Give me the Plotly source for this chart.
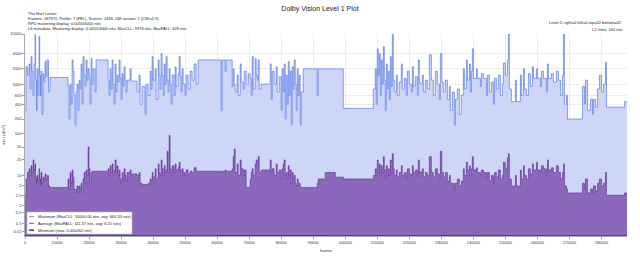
import plotly.graph_objects as go

TOTAL_FRAMES = 187972

# Scene start frames
SCENE_START = [
    0, 310, 780, 1250, 1560, 1880, 2190, 2500, 2810, 3130,
    3280, 3590, 3750, 4060, 4380, 4590, 4840, 5000, 5310, 5630,
    5940, 6250, 6560, 6880, 7340, 7810, 13440, 13750, 14060, 14380,
    14690, 15000, 15310, 15630, 15940, 16250, 16560, 16880, 17190, 17500,
    17810, 18130, 18440, 18750, 19060, 19380, 19690, 20000, 20310, 20630,
    20940, 21250, 21880, 22190, 25940, 26250, 26560, 26880, 27190, 27500,
    27810, 28130, 28440, 28750, 29060, 29380, 29690, 30000, 30310, 30630,
    30940, 31250, 31560, 31880, 32810, 33130, 35000, 35630, 35940, 36560,
    37500, 37810, 38440, 39060, 39380, 39690, 40000, 40630, 40940, 41560,
    41880, 42190, 42500, 42810, 43130, 43440, 43750, 44060, 44380, 44690,
    45000, 45310, 45630, 45940, 46560, 46880, 47190, 47810, 48130, 48440,
    48750, 49060, 49380, 50000, 50310, 50940, 51560, 52190, 52810, 53440,
    54060, 61250, 61560, 62500, 62810, 64690, 65000, 65310, 65630, 66250,
    66560, 67190, 67500, 68130, 68440, 69060, 69690, 70310, 70630, 70940,
    71250, 71880, 72190, 72500, 72810, 73130, 73750, 76560, 76880, 77190,
    77810, 78440, 78750, 79380, 80000, 80310, 80630, 80940, 81250, 81560,
    81880, 82190, 82500, 82810, 83130, 83440, 83750, 84060, 84380, 84690,
    85000, 85310, 85630, 85940, 86250, 86880, 91250, 91560, 93750, 96880,
    99380, 108750, 109380, 109690, 110000, 110310, 110630, 110940, 111250, 111560,
    111880, 112190, 112500, 112810, 113130, 113440, 113750, 114060, 114380, 114690,
    115000, 115310, 115940, 116250, 116880, 117500, 117810, 118440, 119060, 119380,
    120000, 120630, 120940, 121250, 121880, 122500, 122810, 123130, 123440, 124060,
    124380, 125000, 125630, 126250, 126880, 127500, 128130, 128750, 129380, 129690,
    130160, 130630, 131250, 131880, 132500, 132810, 133440, 134060, 134380, 135000,
    135630, 136250, 136880, 137190, 137810, 138130, 138750, 139060, 139380, 139690,
    140000, 140940, 141250, 142190, 142500, 143130, 144060, 144380, 145000, 145630,
    146250, 146560, 147190, 147810, 148440, 149060, 149380, 150000, 150630, 150940,
    151250, 151880, 153130, 153440, 154690, 155000, 155630, 155940, 156560, 157190,
    157810, 158440, 158750, 159690, 160000, 160940, 161250, 161880, 162810, 163130,
    163440, 164380, 165000, 165940, 166560, 167190, 167810, 168130, 168440, 169060,
    169380, 174060, 174690, 175000, 175630, 176560, 177190, 177500, 178130, 178750,
    179380, 180000, 180630, 181250, 181560, 187190,
]

# Per-scene maximum (nits)
MAX_NITS = [
    300, 2200, 1500, 2500, 800, 3500, 1800, 600, 2500, 9800,
    1200, 300, 2000, 600, 9000, 1500, 600, 1800, 250, 1600,
    1100, 2800, 1400, 3000, 700, 1350, 900, 200, 1000, 400,
    3000, 1800, 600, 150, 700, 1000, 300, 1200, 800, 2500,
    400, 3500, 1500, 900, 3000, 1200, 2000, 1400, 400, 3200,
    1000, 2000, 700, 3000, 1200, 600, 2000, 800, 3000, 1000,
    400, 2500, 700, 1500, 1100, 3000, 1300, 500, 1600, 900,
    2200, 1200, 700, 1200, 2000, 1150, 700, 1500, 400, 900,
    250, 1000, 600, 1800, 800, 3500, 1200, 2000, 500, 3000,
    1500, 800, 4000, 1500, 600, 2500, 1000, 3500, 1200, 700,
    2000, 1000, 400, 1500, 600, 2200, 900, 1600, 3500, 1400,
    700, 2000, 1000, 600, 1500, 800, 1800, 1200, 2500, 1000,
    3000, 300, 3000, 1800, 3000, 900, 2000, 1000, 700, 1500,
    600, 2500, 1100, 800, 1800, 1000, 1600, 1300, 600, 3500,
    800, 3200, 1500, 1200, 3000, 800, 1000, 2500, 500, 1800,
    1000, 2200, 700, 1400, 300, 2000, 700, 2500, 200, 1500,
    400, 2800, 600, 1800, 150, 2200, 800, 3000, 1000, 300,
    2000, 600, 1500, 150, 700, 2000, 600, 2000, 2000, 2000,
    330, 800, 2000, 400, 5000, 1500, 4000, 600, 3000, 1000,
    5500, 1200, 300, 2500, 800, 1800, 500, 3500, 900, 10000,
    1200, 700, 1500, 600, 1100, 2500, 800, 1300, 600, 1800,
    1000, 700, 2200, 900, 1400, 600, 3000, 1100, 1000, 1500,
    700, 1200, 800, 3800, 1200, 600, 1800, 1000, 500, 4000,
    1100, 700, 1200, 500, 900, 300, 700, 150, 500, 800,
    250, 600, 2000, 800, 3000, 1200, 2500, 700, 1800, 5000,
    1300, 2000, 1300, 900, 1600, 1300, 600, 1500, 700, 1100,
    400, 1300, 800, 1500, 600, 1000, 2600, 1500, 3000, 10000,
    800, 450, 1200, 450, 1500, 600, 2000, 800, 600, 1600,
    900, 2200, 1300, 2000, 1300, 900, 1800, 1300, 700, 2500,
    1300, 1600, 1100, 1800, 1200, 600, 1500, 10000, 400, 600,
    200, 900, 400, 1200, 300, 500, 250, 500, 350, 800,
    1500, 700, 1000, 2700, 350, 450,
]

# Per-scene average (nits)
AVG_NITS = [
    2.5, 8, 12, 15, 10, 18, 12, 25, 14, 20,
    9, 6, 10, 7, 15, 8, 5, 12, 6, 9,
    7, 11, 8, 10, 5, 4.5, 8, 4, 12, 6,
    14, 9, 4, 3, 4, 5, 3, 5, 4, 6,
    3, 8, 12, 6, 14, 10, 50, 15, 6, 12,
    13, 13, 13, 13, 15, 10, 18, 12, 20, 10,
    14, 25, 12, 18, 10, 14, 8, 6, 12, 8,
    15, 10, 7, 12, 14, 11, 10, 12, 6, 5.5,
    5.5, 5.5, 6, 8, 7, 12, 9, 15, 8, 20,
    12, 10, 25, 15, 10, 18, 12, 14, 40, 12,
    90, 15, 10, 18, 12, 20, 14, 16, 22, 14,
    10, 15, 12, 10, 14, 11, 13, 12, 16, 13,
    13, 12, 13, 14, 13, 15, 30, 45, 12, 20,
    10, 25, 15, 10, 14, 4.5, 4.5, 8, 12, 15,
    10, 20, 25, 18, 30, 12, 14, 25, 12, 15,
    10, 20, 12, 14, 8, 15, 20, 25, 10, 12,
    8, 18, 10, 14, 6, 12, 8, 10, 6, 5,
    8, 5, 6, 4.5, 4.5, 4.5, 6, 8, 12, 9,
    8, 10, 15, 10, 25, 12, 20, 10, 18, 12,
    30, 14, 8, 18, 10, 15, 10, 25, 12, 35,
    15, 10, 14, 9, 12, 18, 10, 12, 8, 15,
    11, 10, 18, 12, 14, 9, 25, 13, 12, 15,
    9, 12, 10, 30, 12, 9, 15, 11, 8, 40,
    12, 9, 12, 7, 10, 6, 6, 4, 6, 8,
    5, 7, 15, 10, 22, 14, 18, 10, 15, 30,
    14, 16, 12, 10, 14, 12, 8, 12, 7, 10,
    6, 12, 9, 14, 8, 10, 22, 15, 28, 35,
    8, 5, 10, 5, 14, 8, 18, 10, 8, 15,
    11, 20, 14, 22, 14, 12, 18, 15, 10, 25,
    14, 16, 12, 18, 12, 8, 12, 20, 5, 4,
    3, 6, 4, 8, 3, 4, 3, 5, 3.5, 6,
    8, 5, 6, 12, 2.5, 3,
]

# Minimum (nits)
MIN_FRAMES = [0, 40000, 60000, 95000, 130000, 150000, 175000]
MIN_NITS = [0.0001, 0.00005, 0.0002, 0.0001, 0.000262, 0.0001, 0.00005]

Y_TICK_NITS = [0.01, 0.1, 0.5, 1, 2.5, 5, 10, 25, 50, 100, 200, 400, 600, 1000, 2000, 4000, 10000]
Y_TICK_TEXT = ["0.01", "0.1", "0.5", "1", "2.5", "5", "10", "25", "50", "100", "200", "400",
               "600", "1000", "2000", "4000", "10000"]
X_TICKS = list(range(0, 180001, 10000))

HEADER_LEFT = [
    "The Hurt Locker",
    "Frames: 187972, Profile: 7 (FEL), Scenes: 2436, DM version: 1 (CM v2.9)",
    "RPU mastering display: 0.0050/4000 nits",
    "L6 metadata: Mastering display: 0.0050/4000 nits, MaxCLL: 9976 nits, MaxFALL: 626 nits",
]
HEADER_RIGHT = ["Level 5: right=0 left=0 top=42 bottom=42", "L2 trims: 100 nits"]
LEGEND_TEXT = [
    "Maximum (MaxCLL: 10000.00 nits, avg: 664.33 nits)",
    "Average (MaxFALL: 111.37 nits, avg: 6.15 nits)",
    "Minimum (max: 0.000262 nits)",
]


def pq(nits):
    m1 = 2610 / 16384
    m2 = 2523 / 4096 * 128
    c1 = 3424 / 4096
    c2 = 2413 / 4096 * 32
    c3 = 2392 / 4096 * 32
    y = max(nits, 0) / 10000.0
    ym = y ** m1
    return ((c1 + c2 * ym) / (1 + c3 * ym)) ** m2


xs = SCENE_START + [TOTAL_FRAMES]
ymax = [pq(v) for v in MAX_NITS] + [pq(MAX_NITS[-1])]
yavg = [pq(v) for v in AVG_NITS] + [pq(AVG_NITS[-1])]
xmin = MIN_FRAMES + [TOTAL_FRAMES]
ymin = [pq(v) for v in MIN_NITS] + [pq(MIN_NITS[-1])]

FONT = "Liberation Sans, Arial, sans-serif"
MAX_FILL = "#cdd6f6"
MAX_LINE = "rgba(55,95,228,0.8)"
AVG_FILL = "#8c68bd"
AVG_LINE = "rgba(75,5,130,0.75)"

fig = go.Figure()
fig.add_trace(go.Scatter(x=xs, y=ymax, mode="lines", line=dict(shape="hv", color=MAX_LINE, width=0.7),
                         fill="tozeroy", fillcolor=MAX_FILL, showlegend=False, name="Maximum"))
fig.add_trace(go.Scatter(x=xs, y=yavg, mode="lines", line=dict(shape="hv", color=AVG_LINE, width=0.6),
                         fill="tozeroy", fillcolor=AVG_FILL, showlegend=False, name="Average"))
fig.add_trace(go.Scatter(x=xmin, y=ymin, mode="lines", line=dict(shape="hv", color="#222222", width=0.6),
                         showlegend=False, name="Minimum"))

PLOT_TOP = 34
PLOT_H = 202
PLOT_L = 25
PLOT_W = 602


def py(px):
    return (PLOT_TOP + PLOT_H - px) / PLOT_H


def pxx(px):
    return (px - PLOT_L) / PLOT_W


annotations = []
for i, t in enumerate(HEADER_LEFT):
    annotations.append(dict(text=t, x=pxx(26), y=py(14 + 5 * i), xref="paper", yref="paper",
                            xanchor="left", yanchor="middle", showarrow=False,
                            font=dict(size=4, color="#222", family=FONT)))
for i, t in enumerate(HEADER_RIGHT):
    annotations.append(dict(text=t, x=pxx(624), y=py(23 + 6.5 * i), xref="paper", yref="paper",
                            xanchor="right", yanchor="middle", showarrow=False,
                            font=dict(size=4, color="#222", family=FONT)))

# custom compact legend
shapes = [dict(type="rect", xref="paper", yref="paper", x0=pxx(27), x1=pxx(132), y0=py(234), y1=py(212),
               fillcolor="white", line=dict(color="#bbbbbb", width=0.6), layer="above")]
leg_colors = ["#7e97e8", "#8c68bd", "#111111"]
for i, (t, c) in enumerate(zip(LEGEND_TEXT, leg_colors)):
    yy = py(216.5 + 6.8 * i)
    shapes.append(dict(type="line", xref="paper", yref="paper", x0=pxx(29), x1=pxx(34), y0=yy, y1=yy,
                       line=dict(color=c, width=1.2), layer="above"))
    annotations.append(dict(text=t, x=pxx(36), y=yy, xref="paper", yref="paper", xanchor="left",
                            yanchor="middle", showarrow=False, font=dict(size=4, color="#222", family=FONT)))

fig.update_layout(
    width=640, height=256,
    margin=dict(l=PLOT_L, r=640 - PLOT_L - PLOT_W, t=PLOT_TOP, b=256 - PLOT_TOP - PLOT_H, autoexpand=False),
    paper_bgcolor="white", plot_bgcolor="white",
    title=dict(text="Dolby Vision Level 1 Plot", x=0.5, xref="container", y=1 - 8.5 / 256,
               yref="container", yanchor="middle", xanchor="center",
               font=dict(size=7, color="#222", family=FONT)),
    font=dict(family=FONT, size=4, color="#333"),
    annotations=annotations, shapes=shapes,
    xaxis=dict(range=[0, TOTAL_FRAMES], tickvals=X_TICKS, ticktext=[str(v) for v in X_TICKS],
               automargin=False,
               showgrid=True, gridcolor="#ececec", gridwidth=1, zeroline=False,
               showline=True, linecolor="#aaaaaa", linewidth=0.6,
               ticks="outside", ticklen=2, tickcolor="#999", tickfont=dict(size=4, color="#333"),
               title=dict(text="frames", font=dict(size=4, color="#333"), standoff=5)),
    yaxis=dict(range=[0, 1], tickvals=[pq(v) for v in Y_TICK_NITS], ticktext=Y_TICK_TEXT,
               automargin=False,
               showgrid=True, gridcolor="#ececec", gridwidth=1, zeroline=False,
               showline=True, linecolor="#aaaaaa", linewidth=0.6,
               ticks="outside", ticklen=2, tickcolor="#999", tickfont=dict(size=4, color="#333"),
               title=dict(text="nits (cd/m²)", font=dict(size=4, color="#333"), standoff=4)),
)

fig.write_html("out.html")
